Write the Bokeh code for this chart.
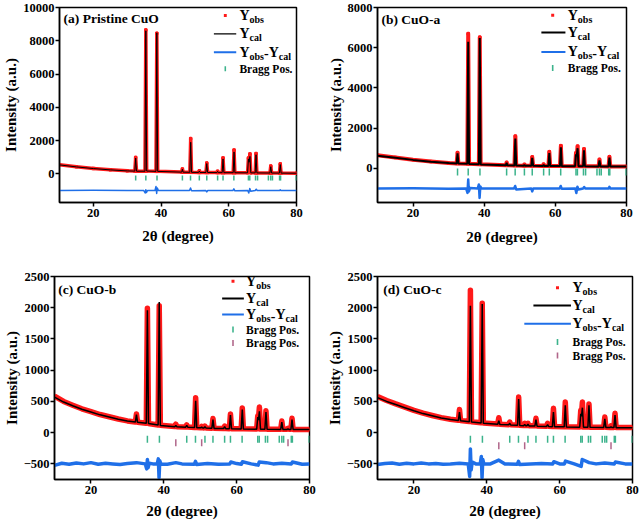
import math
from bokeh.plotting import figure
from bokeh.layouts import column, row
from bokeh.models import Range1d, FixedTicker, Label, BoxAnnotation
from bokeh.embed import file_html
from bokeh.resources import INLINE

FONT = "Liberation Serif"

# ---------------- data ----------------
x_ab = [10, 15, 20, 25, 30, 32.25, 32.5, 32.75, 35.25, 35.5, 35.75, 38.5, 38.75, 39.0,
        46.1, 46.3, 46.5, 48.5, 48.75, 49.0, 51.1, 51.3, 51.5, 53.25, 53.5, 53.75,
        56.5, 56.7, 56.9, 58.05, 58.3, 58.55, 61.3, 61.55, 61.8, 65.55, 65.8, 66.0, 66.25,
        66.5, 67.8, 68.05, 68.3, 72.15, 72.4, 72.65, 74.95, 75.2, 75.45, 80]

a_ycal = [540, 420, 320, 240, 180, 165, 950, 160, 160, 8600, 170, 150, 8480, 150,
          105, 280, 103, 96, 1900, 93, 88, 170, 87, 84, 620, 82, 77, 150, 76, 74, 900, 72,
          70, 1320, 68, 64, 900, 700, 1050, 62, 60, 1150, 58, 52, 430, 51, 47, 560, 46, 40]
a_yobs = [550, 425, 325, 245, 182, 168, 990, 162, 162, 8650, 172, 152, 8450, 152,
          106, 290, 104, 97, 2120, 94, 89, 180, 88, 85, 650, 83, 78, 160, 77, 75, 960, 73,
          71, 1430, 69, 65, 950, 800, 1200, 63, 61, 1220, 59, 53, 470, 52, 48, 600, 47, 41]

b_ycal = [620, 530, 420, 330, 260, 240, 740, 236, 225, 6300, 220, 200, 6480, 195,
          150, 270, 148, 140, 1480, 138, 130, 170, 129, 125, 520, 123, 118, 180, 117, 114,
          760, 112, 110, 1050, 108, 104, 700, 600, 1000, 102, 101, 900, 100, 96, 400, 95,
          93, 530, 92, 90]
b_yobs = [650, 540, 425, 335, 262, 242, 780, 238, 228, 6700, 222, 202, 6520, 197,
          152, 290, 150, 142, 1600, 140, 132, 190, 131, 127, 560, 125, 120, 200, 119, 116,
          820, 114, 112, 1120, 110, 106, 760, 650, 1100, 104, 103, 960, 102, 98, 440, 97,
          95, 570, 94, 92]

x_cd = [10, 12.5, 15, 17.5, 20, 22.5, 25, 27.5, 30, 32.2, 32.5, 32.8, 35.2, 35.5, 35.8,
        38.45, 38.75, 39.05, 43.0, 43.3, 43.6, 46.0, 46.3, 46.6, 48.45, 48.75, 49.05,
        50.1, 50.4, 50.7, 51.0, 51.3, 51.6, 53.2, 53.5, 53.8, 56.4, 56.7, 57.0, 58.0,
        58.3, 58.6, 61.25, 61.55, 61.85, 65.5, 65.8, 66.0, 66.25, 66.55, 67.75, 68.05,
        68.35, 72.1, 72.4, 72.7, 73.8, 74.1, 74.4, 74.9, 75.2, 75.5, 80]

c_ycal = [570, 490, 430, 375, 330, 285, 250, 215, 185, 170, 290, 165, 150, 1960, 145,
          122, 2090, 115, 95, 115, 94, 88, 115, 87, 82, 510, 80, 77, 90, 75, 74, 95, 73,
          70, 210, 68, 65, 95, 64, 62, 280, 61, 60, 370, 59, 56, 250, 200, 340, 55, 55,
          330, 54, 52, 170, 52, 51, 60, 51, 51, 210, 50, 50]
c_yobs = [585, 500, 440, 382, 335, 290, 254, 218, 188, 172, 300, 167, 152, 1990, 147,
          124, 2030, 117, 97, 135, 96, 90, 125, 89, 84, 560, 82, 79, 100, 77, 76, 105, 75,
          72, 225, 70, 67, 105, 66, 64, 300, 63, 62, 395, 61, 58, 270, 230, 410, 57, 57,
          350, 56, 54, 185, 54, 53, 70, 53, 53, 230, 52, 52]

d_ycal = [560, 500, 450, 400, 350, 305, 270, 235, 210, 195, 330, 190, 175, 2030, 170,
          155, 2060, 150, 135, 190, 132, 125, 150, 122, 118, 540, 115, 112, 130, 110, 110,
          135, 108, 106, 210, 104, 100, 130, 98, 96, 330, 95, 93, 440, 92, 88, 300, 260,
          400, 86, 86, 440, 85, 83, 220, 82, 81, 95, 81, 81, 280, 80, 80]
d_yobs = [580, 515, 460, 410, 357, 312, 275, 240, 214, 198, 370, 193, 178, 2280, 173,
          158, 2070, 153, 138, 240, 135, 128, 170, 125, 121, 570, 118, 115, 150, 113, 113,
          150, 111, 109, 230, 107, 103, 150, 101, 99, 390, 98, 96, 490, 95, 91, 360, 300,
          490, 89, 89, 460, 88, 86, 250, 85, 84, 110, 84, 84, 310, 83, 83]

dx_ab = [10, 20, 30, 34.9, 35.3, 35.5, 35.7, 36.0, 38.2, 38.5, 38.7, 38.9, 39.2, 48.4,
         48.7, 49.0, 53.2, 53.5, 53.8, 61.2, 61.5, 61.8, 65.6, 65.9, 66.2, 66.5, 67.8,
         68.1, 68.4, 75.0, 75.2, 75.4, 80]
a_diff = [-1000, -990, -1000, -1000, -1150, -950, -1120, -1000, -1000, -760, -1180, -850,
          -1000, -1000, -850, -1020, -1000, -1080, -1000, -1000, -900, -1020, -1000,
          -1150, -880, -1050, -1000, -920, -1000, -1000, -960, -1000, -1000]
b_diff = [-1000, -990, -1010, -1000, -1220, -560, -1150, -980, -1000, -800, -1470, -900,
          -1000, -1000, -880, -1050, -1000, -1150, -1000, -1000, -880, -1020, -1000,
          -1230, -920, -1050, -1000, -930, -1000, -1000, -920, -1000, -1000]

dx_cd = [10, 12, 14, 16, 18, 20, 22, 24, 26, 28, 30, 32.5, 34.9, 35.3, 35.5, 35.7, 36.0,
         37.0, 38.2, 38.5, 38.7, 38.9, 39.2, 41, 43.3, 45, 48.4, 48.7, 49.0, 52, 55, 58.1,
         58.4, 60, 61.3, 61.6, 64, 65.9, 66.2, 68.1, 70, 72.4, 75.0, 75.3, 78, 80]
c_diff = [-525, -490, -505, -485, -500, -480, -505, -490, -500, -510, -495, -480, -500,
          -580, -430, -560, -490, -500, -500, -420, -720, -450, -500, -505, -480, -500,
          -505, -460, -510, -495, -505, -500, -470, -495, -505, -465, -500, -520, -470,
          -480, -500, -490, -500, -470, -505, -500]
d_diff = [-510, -495, -485, -505, -490, -500, -485, -500, -495, -505, -500, -490, -500,
          -700, -260, -600, -470, -500, -500, -380, -720, -430, -500, -500, -440, -500,
          -505, -460, -510, -500, -495, -500, -465, -500, -500, -455, -500, -540, -430,
          -480, -500, -485, -500, -470, -500, -500]

bragg_ab = [32.5, 35.5, 38.8, 46.3, 48.7, 51.3, 53.5, 56.7, 58.3, 61.5, 65.8, 66.2, 67.9,
            68.5, 71.7, 72.4, 72.9, 75.0, 75.3, 79.9]
bragg_cd = [35.5, 38.8, 46.3, 48.7, 51.3, 53.5, 56.7, 58.3, 61.5, 65.8, 66.2, 67.9, 68.5,
            71.7, 72.4, 72.9, 75.0, 75.3, 79.9]
bragg_cu = [43.3, 50.4, 74.1]

x_ticks = [20, 40, 60, 80]
a_yticks = [0, 2000, 4000, 6000, 8000, 10000]
b_yticks = [0, 2000, 4000, 6000, 8000]
cd_yticks = [-500, 0, 500, 1000, 1500, 2000, 2500]
a_ylabels = ["0", "2000", "4000", "6000", "8000", "10000"]
b_ylabels = ["0", "2000", "4000", "6000", "8000"]
cd_ylabels = ["\u2212500", "0", "500", "1000", "1500", "2000", "2500"]

panel_titles = ["(a) Pristine CuO", "(b) CuO-a", "(c) CuO-b", "(d) CuO-c"]

RED = "#ff1a1a"
BLUE = "#1f6fe8"
GREEN = "#3cb38c"
PINK = "#b0668a"


def box(p, x0, x1, yc, hpx, color):
    p.add_layout(BoxAnnotation(left=x0, right=x1, bottom=yc - hpx / 2, top=yc + hpx / 2,
                               left_units="data", right_units="data",
                               top_units="screen", bottom_units="screen",
                               fill_color=color, fill_alpha=1, line_alpha=0))


def txt(p, x, xoff, y, yoff, s, size):
    p.add_layout(Label(x=x, y=y, x_units="data", y_units="screen", x_offset=xoff,
                       y_offset=yoff, text=s, text_font=FONT, text_font_style="bold",
                       text_font_size=size, text_baseline="middle", text_color="black"))


def add_legend(p, lg):
    pxd = lg["pxd"]
    rows = lg["rows"]
    # key marks
    box(p, lg["dot"] - 1.5 / pxd, lg["dot"] + 1.5 / pxd, rows[0], 3, RED)
    box(p, lg["l0"], lg["l1"], rows[1], lg["cal_w"], "black")
    box(p, lg.get("b0", lg["l0"]), lg["l1"], rows[2], 2, BLUE)
    box(p, lg["dot"] - 0.8 / pxd, lg["dot"] + 0.8 / pxd, rows[3], lg["th"], GREEN)
    if len(rows) > 4:
        box(p, lg["dot"] - 0.8 / pxd, lg["dot"] + 0.8 / pxd, rows[4], lg["th"], PINK)
    tx = lg["tx"]
    big, small = "14px", "10px"
    txt(p, tx, 0, rows[0], 0, "Y", big)
    txt(p, tx, 10.1, rows[0], -4, "obs", small)
    txt(p, tx, 0, rows[1], 0, "Y", big)
    txt(p, tx, 10.1, rows[1], -4, "cal", small)
    txt(p, tx, 0, rows[2], 0, "Y", big)
    txt(p, tx, 10.1, rows[2], -4, "obs", small)
    txt(p, tx, 24.6, rows[2], -1, "-", big)
    txt(p, tx, 29.3, rows[2], 0, "Y", big)
    txt(p, tx, 39.4, rows[2], -4, "cal", small)
    for r in rows[3:]:
        txt(p, tx, 0, r, 0, "Bragg Pos.", "11.5px")


def make_panel(cfg):
    p = figure(width=cfg["w"], height=cfg["h"], output_backend="svg", toolbar_location=None,
               x_range=Range1d(10, 80), y_range=Range1d(*cfg["yr"]),
               min_border_left=cfg["b"][0], min_border_right=cfg["b"][1],
               min_border_top=cfg["b"][2], min_border_bottom=cfg["b"][3])
    p.grid.visible = False
    p.outline_line_color = "black"
    p.outline_line_width = 1.5
    p.outline_line_alpha = 1
    for ax in (p.xaxis[0], p.yaxis[0]):
        ax.axis_line_width = 1.5
        ax.major_tick_in = 0
        ax.major_tick_out = 4
        ax.major_tick_line_width = 1.5
        ax.minor_tick_line_color = None
        ax.major_label_text_font = FONT
        ax.major_label_text_font_style = "bold"
        ax.major_label_text_font_size = "12.5px"
        ax.major_label_text_color = "black"
        ax.axis_label_text_font = FONT
        ax.axis_label_text_font_style = "bold"
        ax.axis_label_text_font_size = "15px"
        ax.axis_label_text_color = "black"
    p.xaxis[0].major_label_standoff = 2
    p.yaxis[0].major_label_standoff = 1
    p.xaxis[0].ticker = FixedTicker(ticks=x_ticks)
    p.xaxis[0].axis_label = "2\u03b8 (degree)"
    p.xaxis[0].axis_label_standoff = cfg["xls"]
    p.yaxis[0].ticker = FixedTicker(ticks=cfg["yt"])
    p.yaxis[0].major_label_overrides = {t: l for t, l in zip(cfg["yt"], cfg["yl"])}
    p.yaxis[0].axis_label = "Intensity (a.u.)"
    p.yaxis[0].axis_label_standoff = 1

    x = cfg["x"]
    p.line(x, cfg["yobs"], line_color=RED, line_width=cfg["obs_w"], line_join="round")
    p.scatter(x, cfg["yobs"], marker="square", size=2.5, color=RED)
    p.line(x, cfg["ycal"], line_color="black", line_width=cfg["cal_w"])
    p.line(cfg["dx"], cfg["diff"], line_color=BLUE, line_width=cfg["dif_w"],
           line_join="round")
    p.scatter(cfg["bragg"], [cfg["by"][0]] * len(cfg["bragg"]), marker="dash",
              angle=math.pi / 2, size=cfg["bs"], line_color=GREEN, line_width=1.5)
    if cfg.get("bragg2"):
        p.scatter(cfg["bragg2"], [cfg["by"][1]] * len(cfg["bragg2"]), marker="dash",
                  angle=math.pi / 2, size=cfg["bs"], line_color=PINK, line_width=1.5)
    add_legend(p, cfg["leg"])
    p.add_layout(Label(x=cfg["tpos"][0], y=cfg["tpos"][1], text=cfg["title"],
                       text_font=FONT, text_font_style="bold", text_font_size="13.5px",
                       text_baseline="middle", text_color="black"))
    return p


pa = make_panel(dict(w=320, h=263, b=(52, 24, 6, 61), yr=(-1720, 10000), yt=a_yticks,
                     yl=a_ylabels, x=x_ab, ycal=a_ycal, yobs=a_yobs, dx=dx_ab, diff=a_diff,
                     bragg=bragg_ab, by=(-250,), bs=5, obs_w=3.5, cal_w=1, dif_w=1.5,
                     xls=8, title=panel_titles[0], tpos=(11.2, 9360),
                     leg=dict(pxd=3.486, dot=58.97, l0=55.6, l1=62.2, tx=63.15, cal_w=1.2,
                              th=5, rows=[187, 168.7, 150.3, 133.7])))
pb = make_panel(dict(w=320, h=263, b=(57, 14, 7, 56), yr=(-1700, 8000), yt=b_yticks,
                     yl=b_ylabels, x=x_ab, ycal=b_ycal, yobs=b_yobs, dx=dx_ab, diff=b_diff,
                     bragg=bragg_ab, by=(-180,), bs=7, obs_w=4, cal_w=2, dif_w=2.5,
                     xls=9, title=panel_titles[1], tpos=(11.1, 7420),
                     leg=dict(pxd=3.553, dot=59.25, l0=56.07, l1=62.83, tx=63.48, cal_w=2,
                              th=6, rows=[187.3, 170, 150.6, 134.6])))
pc = make_panel(dict(w=320, h=264, b=(51, 11, 13, 43), yr=(-750, 2500), yt=cd_yticks,
                     yl=cd_ylabels, x=x_cd, ycal=c_ycal, yobs=c_yobs, dx=dx_cd, diff=c_diff,
                     bragg=bragg_cd, bragg2=bragg_cu, by=(-105, -160), bs=7, obs_w=5.5,
                     cal_w=1.5, dif_w=3.5, xls=6, title=panel_titles[2], tpos=(11, 2290),
                     leg=dict(pxd=3.694, dot=59.0, l0=56.02, l1=61.98, tx=62.6, cal_w=2,
                              th=6, rows=[198.3, 181, 165, 150, 136.6])))
pd = make_panel(dict(w=320, h=264, b=(57, 8, 11, 48), yr=(-750, 2500), yt=cd_yticks,
                     yl=cd_ylabels, x=x_cd, ycal=d_ycal, yobs=d_yobs, dx=dx_cd, diff=d_diff,
                     bragg=bragg_cd, bragg2=bragg_cu, by=(-105, -210), bs=7, obs_w=5.5,
                     cal_w=1.5, dif_w=3.5, xls=6, title=panel_titles[3], tpos=(11.6, 2290),
                     leg=dict(pxd=3.643, dot=59.41, l0=52.8, b0=50.3, l1=63.1, tx=63.53,
                              cal_w=2, th=6, rows=[191.7, 174, 155.7, 137.4, 124])))

layout = column(row(pa, pb), row(pc, pd))
open("out.html", "w").write(file_html(layout, INLINE))
